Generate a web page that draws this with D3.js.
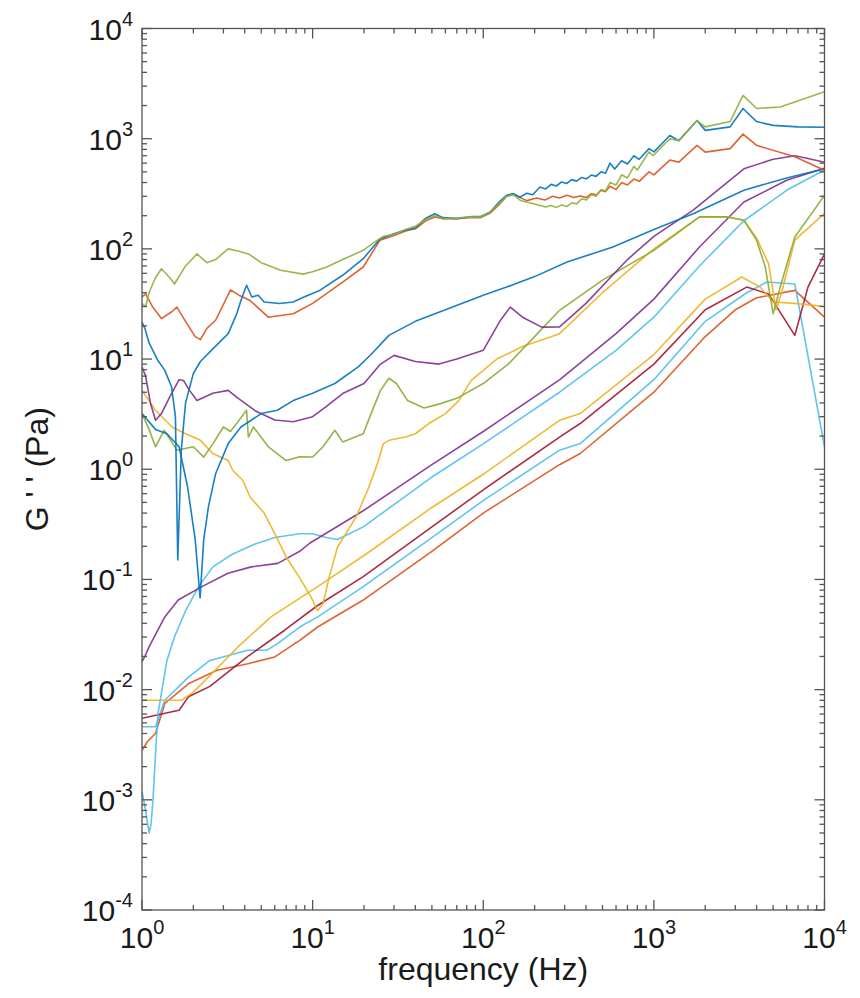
<!DOCTYPE html>
<html>
<head>
<meta charset="utf-8">
<script src="https://cdn.jsdelivr.net/npm/d3@7"></script>
<style>
  body { margin: 0; background: #fff; }
  text { font-family: "Liberation Sans", Arial, Helvetica, sans-serif; fill: #1a1a1a; }
</style>
</head>
<body>
<div id="chart"></div>
<script>
// ---- data: [frequency (Hz), G'' (Pa)] ----
let topGreen = [[1,32],[1.05,30],[1.1,40],[1.2,55],[1.3,66],[1.45,55],[1.55,48],[1.8,70],[2.1,90],[2.4,75],[2.7,80],[3.2,100],[3.7,95],[4.2,90],[5,75],[6.5,64],[8.8,59],[10,62],[12,68],[15,80],[19.8,97],[23,115],[26,130],[30,135],[35,150],[40,160],[46,185],[52,200],[58,188],[70,190],[85,195],[96,194],[110,216],[125,260],[137,300],[150,310],[165,275],[200,255],[215,248],[232,240],[250,248],[268,238],[288,250],[308,242],[330,262],[352,256],[378,285],[402,278],[430,310],[458,300],[490,345],[520,335],[553,400],[600,380],[647,470],[700,440],[763,560],[800,520],[937,760],[990,700],[1240,1000],[1400,960],[1790,1460],[2000,1280],[2800,1430],[3330,2470],[4000,1880],[5500,1940],[10000,2670]];
let topBlue = [[1,21.7],[1.04,19],[1.1,14],[1.24,9.7],[1.36,7.9],[1.49,5.6],[1.57,3],[1.62,0.15],[1.7,1.5],[1.8,4],[2.0,7.4],[2.2,9.5],[2.55,12],[3.2,17],[3.6,26],[3.8,34],[4.1,46.8],[4.4,36.6],[4.8,38],[5.2,33],[6.4,31.9],[7.7,33],[8.9,36.6],[11,42],[15,57.6],[19.8,81.5],[24.8,123],[30,137],[35,148],[40,155],[46,190],[52,208],[58,192],[70,188],[85,196],[96,196],[110,216],[125,270],[137,306],[150,318],[164,295],[180,320],[195,310],[215,364],[232,350],[250,385],[268,372],[288,405],[308,392],[330,425],[352,412],[378,445],[402,432],[430,468],[458,455],[490,500],[520,485],[553,600],[590,530],[647,630],[700,590],[763,700],[820,650],[937,812],[1000,760],[1240,1070],[1400,960],[1790,1460],[2000,1190],[2800,1280],[3330,1880],[4000,1430],[5000,1320],[7000,1280],[10000,1270]];
let topOrange = [[1,36.6],[1.05,39],[1.15,30],[1.3,23.3],[1.5,27],[1.6,29.6],[1.8,22],[2.05,16],[2.2,15],[2.4,19],[2.7,22.5],[3.3,42.3],[3.7,38],[4.3,34],[5.5,24],[7.7,25.8],[10,32],[12,39],[15,50],[19.8,68.5],[24.8,120],[30,132],[35,145],[40,152],[46,180],[52,195],[58,188],[70,188],[85,193],[96,192],[110,212],[125,255],[137,300],[150,312],[180,274],[205,290],[230,278],[255,300],[280,290],[310,306],[340,292],[370,302],[400,292],[430,318],[460,308],[490,340],[520,330],[553,370],[600,345],[647,400],[700,380],[763,430],[820,410],[937,500],[1000,470],[1240,640],[1400,613],[1790,870],[2000,755],[2800,812],[3330,1100],[4000,870],[6700,685],[10000,518]];
let midBlue = [[1,3.2],[1.2,2.3],[1.4,2.1],[1.65,1.6],[1.85,0.69],[2.05,0.23],[2.19,0.068],[2.3,0.23],[2.45,0.455],[2.7,0.91],[3.2,1.71],[3.8,2.42],[5,3.2],[6.2,3.43],[7.7,4.2],[10,4.9],[13.5,6],[18.5,8.5],[22,11],[28,16.4],[40,22],[60,28],[100,38],[137,45],[200,56],[310,76],[575,104],[1000,150],[1700,208],[3370,341],[6000,440],[10000,534]];
let midPurple = [[1,8.5],[1.05,7],[1.12,4],[1.2,2.78],[1.3,3.2],[1.45,4.5],[1.65,6.5],[1.75,6.4],[1.9,5.2],[2.1,4.2],[2.6,4.9],[3.2,5.2],[3.6,4.5],[4.6,3.4],[6,2.8],[7.7,2.7],[10,3.0],[12,3.7],[15,4.86],[20,6],[25,9],[30,10.8],[40,9.5],[55,9],[70,10],[100,12],[125,22],[144,29.6],[170,24],[220,19.5],[280,19.6],[400,32],[700,80],[1000,130],[1700,225],[3370,533],[5000,650],[6700,700],[8000,660],[10000,612]];
let midGreen = [[1,3.2],[1.1,2.3],[1.2,1.6],[1.35,2.26],[1.6,1.49],[2,1.6],[2.3,1.29],[2.6,1.7],[3,2.42],[3.3,2.2],[4.1,3.43],[4.2,1.96],[4.5,2.42],[5.5,1.6],[7,1.2],[8.4,1.3],[10,1.29],[11.5,1.6],[13.5,2.26],[15,1.77],[19.8,2.1],[22,3.2],[25,5.2],[28,6.7],[31,6.0],[36,4.2],[45,3.6],[55,3.9],[70,4.4],[100,6],[140,9],[200,16],[280,27.7],[500,52],[1000,97],[1850,195],[2700,195],[3370,182],[4000,120],[4500,68],[5000,25.8],[5500,45],[6700,128],[10000,306]];
let midYellow = [[1,5.2],[1.2,3.43],[1.5,2.42],[1.8,2.1],[2.2,1.83],[2.6,1.39],[3.2,1.2],[3.4,0.98],[3.9,0.79],[4.3,0.56],[5.2,0.4],[6,0.26],[7,0.16],[8.5,0.1],[9.8,0.069],[10.7,0.052],[11.5,0.06],[12.5,0.105],[14,0.197],[18,0.37],[21,0.645],[24,1.13],[26,1.71],[28,1.83],[35,1.96],[40,2.1],[48,2.6],[60,3.2],[72,4.2],[85,6.4],[120,10],[170,13],[280,17],[500,40],[1000,100],[1850,195],[2700,195],[3370,182],[4000,125],[4700,73.5],[5200,28],[5600,40],[6700,120],[10000,210]];
let lowPurple = [[1,0.018],[1.04,0.02],[1.1,0.0244],[1.36,0.0457],[1.63,0.065],[2.23,0.0856],[3.19,0.114],[4.37,0.13],[6.25,0.14],[8.4,0.18],[9.6,0.213],[19.8,0.42],[50,1.1],[100,2.2],[281,6.5],[600,17],[1000,35],[1850,104],[3370,266],[6000,420],[10000,540]];
let lowLightBlueA = [[1,0.0012],[1.05,0.0008],[1.1,0.0005],[1.13,0.0006],[1.16,0.001],[1.2,0.0026],[1.24,0.006],[1.3,0.0093],[1.4,0.0184],[1.55,0.03],[1.8,0.052],[2.15,0.086],[2.6,0.13],[3.4,0.17],[4.6,0.21],[6.0,0.24],[8.4,0.26],[10,0.26],[12,0.24],[14,0.23],[19.8,0.3],[50,0.85],[100,1.7],[280,5.0],[600,12],[1000,24],[1850,70],[3370,180],[6000,340],[10000,520]];
let lowYellow = [[1,0.008],[1.7,0.008],[2.0,0.0095],[2.45,0.013],[3.65,0.0244],[5.7,0.0457],[10.7,0.086],[20.8,0.172],[50,0.45],[100,0.9],[280,2.78],[370,3.2],[1000,11],[2000,35],[3275,55.6],[4200,45],[5000,33],[6700,32],[10000,30]];
let lowDarkRed = [[1,0.0055],[1.5,0.0063],[1.65,0.0065],[1.87,0.0086],[2.5,0.0107],[4.17,0.02],[6.85,0.0346],[10.7,0.058],[19.8,0.106],[50,0.3],[100,0.65],[280,1.96],[370,2.6],[1000,9],[2000,28],[3500,45],[4700,39],[6700,16.4],[8000,45],[10000,90]];
let lowLightBlueB = [[1,0.0046],[1.2,0.0046],[1.36,0.008],[1.87,0.013],[2.5,0.0184],[4.17,0.0228],[5.4,0.0228],[6.2,0.026],[8.4,0.037],[10.7,0.0457],[19.8,0.086],[50,0.24],[100,0.52],[280,1.49],[370,1.71],[1000,6.5],[2000,22],[3500,40],[4600,50],[6700,48],[10000,1.6]];
let lowOrange = [[1,0.0028],[1.08,0.0034],[1.2,0.004],[1.36,0.0075],[1.87,0.0113],[2.75,0.015],[4.17,0.0172],[6.0,0.0198],[8.4,0.028],[10.7,0.037],[19.8,0.065],[50,0.18],[100,0.4],[280,1.1],[370,1.39],[1000,5],[2000,16],[3000,28],[4000,36],[6700,42],[10000,24]];

let xTicks = [1, 10, 100, 1000, 10000];
let xTickExp = ["0", "1", "2", "3", "4"];
let yTicks = [1e-4, 1e-3, 1e-2, 1e-1, 1, 10, 100, 1000, 10000];
let yTickExp = ["-4", "-3", "-2", "-1", "0", "1", "2", "3", "4"];

// MATLAB-ish default colours (green drawn a bit more olive, as in the picture)
let series = [
	{ data: lowOrange, color: "#D95319" },
	{ data: lowLightBlueB, color: "#4DBEEE" },
	{ data: lowDarkRed, color: "#A2142F" },
	{ data: lowYellow, color: "#EDB120" },
	{ data: lowLightBlueA, color: "#4DBEEE" },
	{ data: lowPurple, color: "#7E2F8E" },
	{ data: midYellow, color: "#EDB120" },
	{ data: midGreen, color: "#86AC34" },
	{ data: midPurple, color: "#7E2F8E" },
	{ data: midBlue, color: "#0072BD" },
	{ data: topOrange, color: "#D95319" },
	{ data: topBlue, color: "#0072BD" },
	{ data: topGreen, color: "#8DB03A" }
];

let width = 860, height = 998;
let plotLeft = 142, plotRight = 824.5, plotTop = 28.5, plotBottom = 910;

let svg = d3.select("#chart").append("svg")
	.attr("width", width)
	.attr("height", height);

let x = d3.scaleLog().domain([1, 1e4]).range([plotLeft, plotRight]);
let y = d3.scaleLog().domain([1e-4, 1e4]).range([plotBottom, plotTop]);

svg.append("clipPath").attr("id", "clip")
	.append("rect")
	.attr("x", plotLeft).attr("y", plotTop)
	.attr("width", plotRight - plotLeft).attr("height", plotBottom - plotTop);

let line = d3.line()
	.x(d => x(d[0]))
	.y(d => y(d[1]));

let plot = svg.append("g").attr("clip-path", "url(#clip)");

plot.selectAll(".series")
	.data(series)
	.enter()
	.append("path")
	.attr("class", "series")
	.attr("d", d => line(d.data))
	.attr("fill", "none")
	.attr("stroke", d => d.color)
	.attr("stroke-width", 1.6)
	.attr("stroke-linejoin", "round")
	.attr("opacity", 0.9);

// axes: box with inward ticks on every side
let axisColor = "#555";
let majorLen = 10, minorLen = 5;

function minorsFor(lo, hi) {
	let out = [];
	for (let e = Math.log10(lo); e < Math.log10(hi); e++) {
		for (let m = 2; m <= 9; m++) out.push(m * Math.pow(10, e));
	}
	return out;
}

let axes = svg.append("g")
	.attr("stroke", axisColor)
	.attr("stroke-width", 1.3)
	.attr("fill", "none");

axes.append("rect")
	.attr("x", plotLeft).attr("y", plotTop)
	.attr("width", plotRight - plotLeft).attr("height", plotBottom - plotTop);

let xMinor = minorsFor(1, 1e4);
let yMinor = minorsFor(1e-4, 1e4);

// x ticks (bottom and top)
xTicks.forEach(t => {
	axes.append("line").attr("x1", x(t)).attr("x2", x(t)).attr("y1", plotBottom).attr("y2", plotBottom - majorLen);
	axes.append("line").attr("x1", x(t)).attr("x2", x(t)).attr("y1", plotTop).attr("y2", plotTop + majorLen);
});
xMinor.forEach(t => {
	axes.append("line").attr("x1", x(t)).attr("x2", x(t)).attr("y1", plotBottom).attr("y2", plotBottom - minorLen);
	axes.append("line").attr("x1", x(t)).attr("x2", x(t)).attr("y1", plotTop).attr("y2", plotTop + minorLen);
});

// y ticks (left and right)
yTicks.forEach(t => {
	axes.append("line").attr("y1", y(t)).attr("y2", y(t)).attr("x1", plotLeft).attr("x2", plotLeft + majorLen);
	axes.append("line").attr("y1", y(t)).attr("y2", y(t)).attr("x1", plotRight).attr("x2", plotRight - majorLen);
});
yMinor.forEach(t => {
	axes.append("line").attr("y1", y(t)).attr("y2", y(t)).attr("x1", plotLeft).attr("x2", plotLeft + minorLen);
	axes.append("line").attr("y1", y(t)).attr("y2", y(t)).attr("x1", plotRight).attr("x2", plotRight - minorLen);
});

// tick labels
let tickSize = 30, expSize = 20;

svg.selectAll(".xlab")
	.data(xTicks)
	.enter()
	.append("text")
	.attr("class", "xlab")
	.attr("x", d => x(d))
	.attr("y", 948)
	.attr("text-anchor", "middle")
	.attr("font-size", tickSize)
	.each(function(d, i) {
		let t = d3.select(this);
		t.append("tspan").text("10");
		t.append("tspan").attr("dy", -14).attr("font-size", expSize).text(xTickExp[i]);
	});

svg.selectAll(".ylab")
	.data(yTicks)
	.enter()
	.append("text")
	.attr("class", "ylab")
	.attr("x", 133)
	.attr("y", d => y(d) + 11)
	.attr("text-anchor", "end")
	.attr("font-size", tickSize)
	.each(function(d, i) {
		let t = d3.select(this);
		t.append("tspan").text("10");
		t.append("tspan").attr("dy", -14).attr("font-size", expSize).text(yTickExp[i]);
	});

// axis labels
svg.append("text")
	.attr("x", (plotLeft + plotRight) / 2)
	.attr("y", 980)
	.attr("text-anchor", "middle")
	.attr("font-size", 32)
	.text("frequency (Hz)");

svg.append("text")
	.attr("transform", "translate(48," + ((plotTop + plotBottom) / 2) + ") rotate(-90)")
	.attr("text-anchor", "middle")
	.attr("font-size", 32)
	.text("G ' ' (Pa)");
</script>
</body>
</html>
